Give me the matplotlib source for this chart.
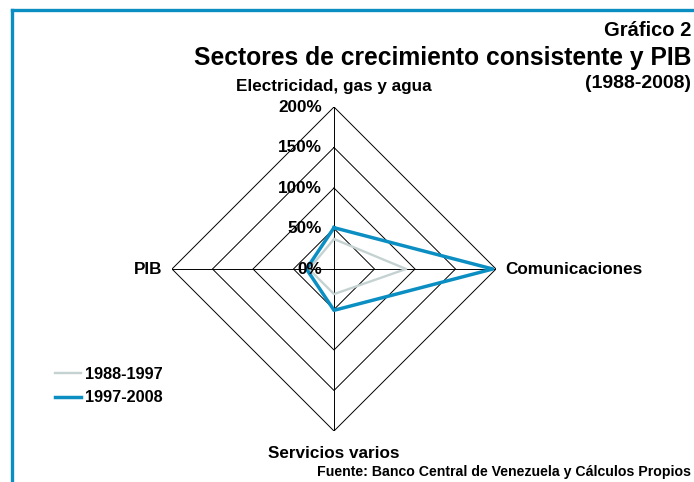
import numpy as np
import matplotlib
matplotlib.use("Agg")
import matplotlib.pyplot as plt
from matplotlib.lines import Line2D

plt.rcParams['font.family'] = ['Liberation Sans', 'DejaVu Sans']
plt.rcParams['font.weight'] = 'bold'

W, H = 694, 482

# data
categories = ["Electricidad, gas y agua", "Comunicaciones", "Servicios varios", "PIB"]
series_names = ["1988-1997", "1997-2008"]
vals_8897 = [37, 89, 31, 31]
vals_9708 = [51, 196, 51, 34]
rings = [0, 50, 100, 150, 200]
ring_labels = ["0%", "50%", "100%", "150%", "200%"]

BLUE = "#0b8fc3"
GRAY = "#c5d2d2"


def fx(x):
    return x / W


def fy(y):
    return 1 - y / H


def pt(px):
    return px * 0.72


fig = plt.figure(figsize=(W / 100, H / 100), dpi=100)

# frame: blue line on left and top
fig.add_artist(Line2D([fx(12), fx(12)], [0, fy(10)], color=BLUE, lw=2.4))
fig.add_artist(Line2D([fx(12), 1], [fy(10), fy(10)], color=BLUE, lw=2.4))

# radar axes, centre (334, 269), radius 162 px
cx, cy, R = 334, 269, 162
ax = fig.add_axes([fx(cx - R), fy(cy + R), 2 * R / W, 2 * R / H], projection="polar")
ax.set_theta_offset(np.pi / 2)
ax.set_theta_direction(-1)
ax.set_ylim(0, 200)
ax.set_axis_off()

n = len(categories)
angles = np.linspace(0, 2 * np.pi, n, endpoint=False)
closed = np.append(angles, angles[0])

for r in rings[1:]:
    ax.plot(closed, [r] * (n + 1), color="black", lw=0.7, zorder=1)
for a in angles:
    ax.plot([a, a], [0, 200], color="black", lw=0.7, zorder=1)

ax.plot(closed, vals_8897 + vals_8897[:1], color=GRAY, lw=1.7, zorder=3,
        label=series_names[0])
ax.plot(closed, vals_9708 + vals_9708[:1], color=BLUE, lw=2.5, zorder=4,
        label=series_names[1])

for r, lab in zip(rings, ring_labels):
    ax.annotate(lab, xy=(0, r), xytext=(pt(-12), 0), textcoords="offset points",
                ha="right", va="center", fontsize=12.3, fontweight="bold", zorder=5)

label_fs = 12.3
ax.annotate(categories[0], xy=(angles[0], 200), xytext=(0, pt(21)),
            textcoords="offset points", ha="center", va="center",
            fontsize=label_fs, fontweight="bold", annotation_clip=False)
ax.annotate(categories[1], xy=(angles[1], 200), xytext=(pt(9), 0),
            textcoords="offset points", ha="left", va="center",
            fontsize=label_fs, fontweight="bold", annotation_clip=False)
ax.annotate(categories[2], xy=(angles[2], 200), xytext=(0, pt(-23)),
            textcoords="offset points", ha="center", va="center",
            fontsize=label_fs, fontweight="bold", annotation_clip=False)
ax.annotate(categories[3], xy=(angles[3], 200), xytext=(pt(-10), 0),
            textcoords="offset points", ha="right", va="center",
            fontsize=label_fs, fontweight="bold", annotation_clip=False)

# titles
fig.text(fx(691), fy(31), "Gráfico 2", ha="right", va="center", fontsize=14.5, fontweight="bold")
fig.text(fx(691), fy(58), "Sectores de crecimiento consistente y PIB", ha="right",
         va="center", fontsize=17.7, fontweight="bold")
fig.text(fx(691), fy(84), "(1988-2008)", ha="right", va="center", fontsize=14,
         fontweight="bold")
fig.text(fx(691), fy(472), "Fuente: Banco Central de Venezuela y Cálculos Propios",
         ha="right", va="center", fontsize=10.2, fontweight="bold")

fig.legend(loc="center left", bbox_to_anchor=(fx(55), fy(386)), frameon=False,
           fontsize=11.7, handlelength=1.6, handletextpad=0.25, labelspacing=0.55,
           borderpad=0, borderaxespad=0)

fig.savefig("out.png", dpi=100)
